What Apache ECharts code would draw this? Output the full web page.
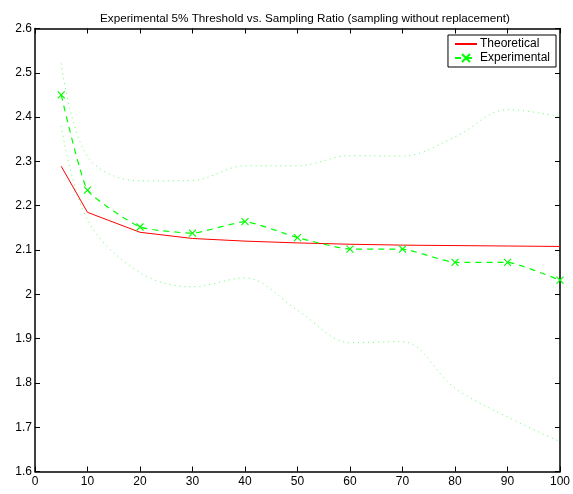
<!DOCTYPE html>
<html>
<head>
<meta charset="utf-8">
<script src="https://cdn.jsdelivr.net/npm/echarts@6/dist/echarts.min.js"></script>
<style>html,body{margin:0;padding:0;background:#fff}#c{width:573px;height:494px}</style>
</head>
<body>
<div id="c"></div>
<script>
var ratios = [5, 10, 20, 30, 40, 50, 60, 70, 80, 90, 100];
var theoretical = [2.289, 2.185, 2.140, 2.126, 2.120, 2.116, 2.113, 2.111, 2.110, 2.109, 2.108];
var experimental = [2.450, 2.235, 2.152, 2.138, 2.164, 2.128, 2.102, 2.102, 2.072, 2.072, 2.032];
var upperBound = [2.521, 2.311, 2.256, 2.257, 2.290, 2.290, 2.313, 2.312, 2.355, 2.417, 2.401];
var lowerBound = [2.380, 2.168, 2.049, 2.017, 2.037, 1.964, 1.891, 1.893, 1.788, 1.723, 1.667];
var xTicks = [0, 10, 20, 30, 40, 50, 60, 70, 80, 90, 100];
var yTicks = [1.6, 1.7, 1.8, 1.9, 2, 2.1, 2.2, 2.3, 2.4, 2.5, 2.6];

function pairs(ys){ return ratios.map(function(x,i){ return [x, ys[i]]; }); }

var FONT = 'Liberation Sans, Arial, Helvetica, sans-serif';
var chart = echarts.init(document.getElementById('c'), null, {renderer:'canvas'});
var xMain = {type:'value', min:0, max:100, interval:10, position:'bottom',
  axisLine:{show:true, onZero:false, lineStyle:{color:'#000', width:1.5}},
  axisTick:{show:true, inside:true, length:5, lineStyle:{color:'#000', width:1}},
  axisLabel:{color:'#000', fontSize:12, fontFamily:FONT, margin:4,
    formatter:function(v){ return xTicks.indexOf(Math.round(v))>=0 ? String(Math.round(v)) : ''; }},
  splitLine:{show:false}};
var xTop = echarts.util.merge({position:'top', axisLabel:{show:false}}, xMain, false);
var yMain = {type:'value', min:1.6, max:2.6, interval:0.1, position:'left',
  axisLine:{show:true, onZero:false, lineStyle:{color:'#000', width:1.5}},
  axisTick:{show:true, inside:true, length:5, lineStyle:{color:'#000', width:1}},
  axisLabel:{color:'#000', fontSize:12, fontFamily:FONT, margin:3,
    formatter:function(v){ var r=Math.round(v*10)/10; return yTicks.indexOf(r)>=0 ? String(r) : ''; }},
  splitLine:{show:false}};
var yRight = echarts.util.merge({position:'right', axisLabel:{show:false}}, yMain, false);

chart.setOption({
  animation:false,
  backgroundColor:'#fff',
  title:{text:'Experimental 5% Threshold vs. Sampling Ratio (sampling without replacement)',
    left:300, textAlign:'center', top:8,
    textStyle:{fontSize:11.7, fontWeight:'normal', color:'#000', fontFamily:FONT}},
  grid:{left:35, right:12, top:28.5, bottom:22.5, containLabel:false},
  xAxis:[xMain, xTop],
  yAxis:[yMain, yRight],
  legend:{data:[{name:'Theoretical', itemStyle:{opacity:0}}, 'Experimental'],
    orient:'vertical', right:17, top:35,
    backgroundColor:'#fff', borderColor:'#000', borderWidth:1, padding:[3,6,3,6],
    itemGap:2, itemWidth:22, itemHeight:10,
    textStyle:{fontSize:12, color:'#000', fontFamily:FONT, padding:[0,0,0,-2]}},
  series:[
    {name:'Theoretical', type:'line', data:pairs(theoretical), showSymbol:false, symbol:'none',
      lineStyle:{color:'#ff0000', width:1}, itemStyle:{color:'#ff0000'}, z:3},
    {name:'Experimental', type:'line', data:pairs(experimental), smooth:0.15,
      symbol:'path://M0,0L10,10M10,0L0,10', symbolSize:7, showSymbol:true,
      lineStyle:{color:'#00ff00', width:1.2, type:[6,5]},
      itemStyle:{color:'#00ff00', borderColor:'#00ff00', borderWidth:1.2}, z:4},
    {name:'Upper', type:'line', data:pairs(upperBound), smooth:0.35, symbol:'none',
      lineStyle:{color:'#66ff66', width:1, type:[1,4]}, z:2},
    {name:'Lower', type:'line', data:pairs(lowerBound), smooth:0.35, symbol:'none',
      lineStyle:{color:'#66ff66', width:1, type:[1,4]}, z:2}
  ]
});
</script>
</body>
</html>
